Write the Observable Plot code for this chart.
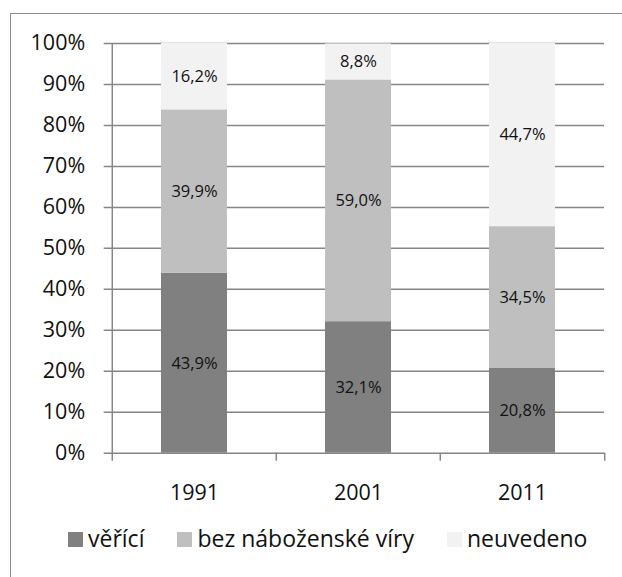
<!DOCTYPE html>
<html>
<head>
<meta charset="utf-8">
<script src="https://cdn.jsdelivr.net/npm/d3@7"></script>
<script src="https://cdn.jsdelivr.net/npm/@observablehq/plot@0.6"></script>
<style>
  body { margin: 0; background: #fff; font-family: "Open Sans", sans-serif; }
  #wrap { position: relative; width: 622px; height: 577px; overflow: hidden; }
  #frame { position: absolute; left: 10px; top: 13px; width: 700px; height: 700px; border: 1.5px solid #8c8c8c; box-sizing: border-box; }
  #chart { position: absolute; left: 0; top: 0; }
  #legend { position: absolute; left: 68px; top: 522px; font-size: 23px; color: #111; white-space: nowrap; }
  #legend .item { display: inline-block; margin-right: 33px; }
  #legend .sw { display: inline-block; width: 15px; height: 15px; margin-right: 5px; }
</style>
</head>
<body>
<div id="wrap">
  <div id="frame"></div>
  <div id="chart"></div>
  <div id="legend"></div>
</div>
<script>
const years = ["1991", "2001", "2011"];
const series = ["věřící", "bez náboženské víry", "neuvedeno"];
const colors = ["#808080", "#bfbfbf", "#f2f2f2"];
const verici = [43.9, 32.1, 20.8];
const bezViry = [39.9, 59.0, 34.5];
const neuvedeno = [16.2, 8.8, 44.7];
const yTicks = [0, 10, 20, 30, 40, 50, 60, 70, 80, 90, 100];

const seriesValues = [verici, bezViry, neuvedeno];
const data = [];
series.forEach((s, si) => years.forEach((y, yi) => data.push({year: y, series: s, value: seriesValues[si][yi]})));
const fmt = v => v.toFixed(1).replace(".", ",") + "%";

const W = 622, H = 520, mL = 110.7, mR = 18, mT = 43, mB = H - 452.7;
const bw = (W - mL - mR) / years.length;
const plotH = H - mT - mB;
const grid = "#868686";

const chart = Plot.plot({
  width: W, height: H,
  marginLeft: mL, marginRight: mR, marginTop: mT, marginBottom: mB,
  style: {fontFamily: "Open Sans", fontSize: "21px", color: "#111", background: "transparent"},
  x: {domain: years, paddingInner: 0.6, paddingOuter: 0.3, label: null},
  y: {domain: [0, 100], label: null},
  color: {domain: series, range: colors},
  marks: [
    Plot.ruleY(yTicks, {y: d => d, stroke: grid, strokeWidth: 1.5, insetLeft: -7}),
    Plot.barY(data, Plot.stackY({x: "year", y: "value", fill: "series", z: "series", order: series})),
    Plot.ruleX(years.slice(0, 1), {x: d => d, dx: -bw / 2, stroke: grid, strokeWidth: 1.5, insetBottom: -8}),
    Plot.ruleX(years.slice(1), {x: d => d, dx: -bw / 2, stroke: grid, strokeWidth: 1.5, insetTop: plotH, insetBottom: -8}),
    Plot.ruleX(years.slice(-1), {x: d => d, dx: bw / 2, stroke: grid, strokeWidth: 1.5, insetTop: plotH, insetBottom: -8}),
    Plot.text(data, Plot.stackY({x: "year", y: "value", z: "series", text: d => fmt(d.value), order: series, fontSize: 16.5, fill: "#111"})),
    Plot.axisY(yTicks, {tickSize: 0, tickPadding: 26, tickFormat: d => d + "%", fontSize: 21.5}),
    Plot.axisX({tickSize: 0, tickPadding: 32, fontSize: 21.5})
  ]
});
document.getElementById("chart").appendChild(chart);

const legend = document.getElementById("legend");
series.forEach((s, i) => {
  const item = document.createElement("span");
  item.className = "item";
  const sw = document.createElement("span");
  sw.className = "sw";
  sw.style.background = colors[i];
  item.appendChild(sw);
  item.appendChild(document.createTextNode(s));
  legend.appendChild(item);
});
</script>
</body>
</html>
